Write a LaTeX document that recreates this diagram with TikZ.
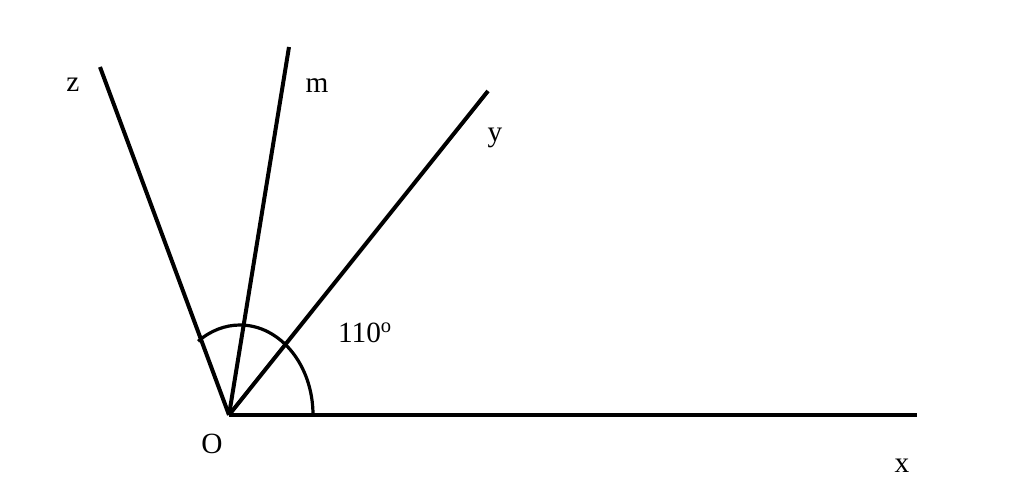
\documentclass[tikz,border=0pt]{standalone}
\usepackage{fontspec}
\setmainfont{Liberation Serif}

\begin{document}
\begin{tikzpicture}[x=0.75pt, y=-0.75pt, line width=3pt,
		lbl/.style={font=\fontsize{22}{26}\selectfont, inner sep=0pt}]
		\useasboundingbox (0,0) rectangle (1024,491);
		\coordinate (O) at (229, 415);
		\coordinate (X) at (917, 415);
		\coordinate (Y) at (488, 91);
		\coordinate (M) at (289, 47);
		\coordinate (Z) at (100, 67);
		\coordinate (A) at (313, 415);
		
		\draw (O) -- (X);
		\draw (O) -- (Y);
		\draw (O) -- (M);
		\draw (O) -- (Z);
		
		\draw [line width=2.4pt] (A) arc[start angle=0, end angle=-125, x radius=73, y radius=90];
		
		\node[lbl, anchor=base] (lz) at (73, 92) {z};
		\node[lbl, anchor=base] (lm) at (317, 93) {m};
		\node[lbl, anchor=base] (ly) at (495, 142) {y};
		\node[lbl, anchor=base] (lx) at (902, 472) {x};
		\node[lbl, anchor=base] (lO) at (212, 453) {O};
		\node[lbl, anchor=base west] (la) at (336, 343) {110\textsuperscript{o}};
	\end{tikzpicture}
\end{document}
